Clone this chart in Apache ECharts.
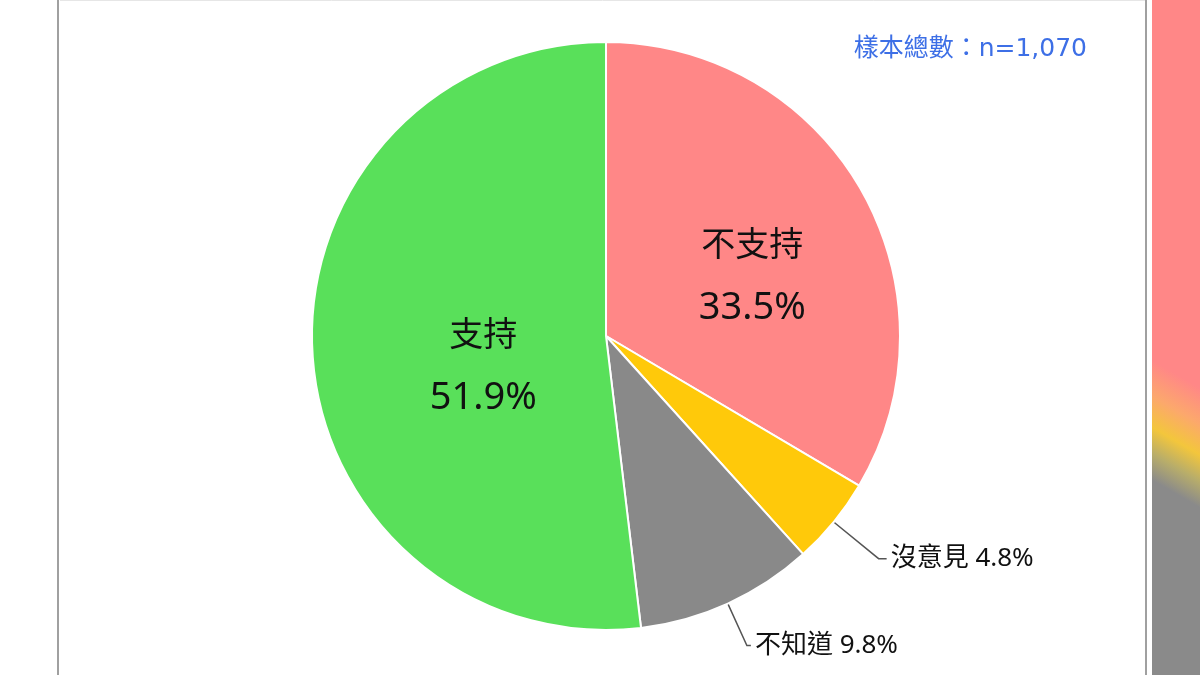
<!DOCTYPE html>
<html>
<head>
<meta charset="utf-8">
<script src="https://cdn.jsdelivr.net/npm/echarts@6/dist/echarts.min.js"></script>
<style>
  html, body { margin: 0; padding: 0; background: #fff; }
  #main { width: 1200px; height: 675px; }
</style>
</head>
<body>
<div id="main"></div>
<script>
var categories = ['不支持', '沒意見', '不知道', '支持'];
var values = [33.5, 4.8, 9.8, 51.9];
var colors = ['#ff8787', '#ffc90a', '#898989', '#59e05a'];
var sampleText = '樣本總數：n=1,070';

var chart = echarts.init(document.getElementById('main'));

var cjk = '"Noto Sans CJK TC", sans-serif';
var mixed = '"Noto Sans", "Noto Sans CJK TC", sans-serif';
var wide = '"DejaVu Sans", "Noto Sans CJK TC", sans-serif';

// 大塊用內部標籤（兩行），小塊用外部標籤
function insideLabel(offset) {
    return {
        show: true,
        position: 'inside',
        offset: offset,
        formatter: '{n|{b}}\n{p|{c}%}',
        rich: {
            n: { fontSize: 34, lineHeight: 65, color: '#111', fontFamily: cjk },
            p: { fontSize: 38, lineHeight: 65, color: '#111', fontFamily: mixed }
        }
    };
}
var outsideLabel = {
    show: true,
    position: 'outside',
    formatter: '{b} {c}%',
    color: '#111',
    fontSize: 26,
    fontFamily: mixed,
    distanceToLabelLine: 4
};

var pieData = categories.map(function (name, i) {
    return {
        name: name,
        value: values[i],
        itemStyle: { color: colors[i] },
        label: outsideLabel,
        labelLine: { show: true }
    };
});
pieData[0].label = insideLabel([16, 14]);
pieData[0].labelLine = { show: false };
pieData[3].label = insideLabel([27, 21]);
pieData[3].labelLine = { show: false };
pieData[1].labelLine = { show: true, length: 58, length2: 8 };
pieData[2].labelLine = { show: true, length: 46, length2: 4 };

option = {
    backgroundColor: '#fff',
    animation: false,
    graphic: [
        // 外框
        { type: 'rect', shape: { x: 58, y: -2, width: 1088, height: 690 },
          style: { fill: 'none', stroke: '#a0a0a0', lineWidth: 2 } },
        { type: 'line', shape: { x1: 60, y1: 0.5, x2: 1145, y2: 0.5 },
          style: { stroke: '#e6e6e6', lineWidth: 1 } },
        // 右側相鄰圖片的邊緣（模糊）
        { type: 'rect', shape: { x: 1152, y: 0, width: 48, height: 675 },
          style: {
              fill: new echarts.graphic.LinearGradient(1152, 360, 1100, 450, [
                  { offset: 0, color: '#ff8787' },
                  { offset: 0.3, color: '#fca86c' },
                  { offset: 0.56, color: '#f3c63c' },
                  { offset: 0.78, color: '#b8ad6a' },
                  { offset: 1, color: '#8a8a8a' }
              ], true)
          } },
        { type: 'text', right: 113, top: 37,
          style: { text: sampleText, fill: '#3d6fe6', fontSize: 25, fontFamily: wide } }
    ],
    series: [
        {
            type: 'pie',
            center: [606, 336],
            radius: 294,
            startAngle: 90,
            clockwise: true,
            avoidLabelOverlap: false,
            itemStyle: { borderColor: '#fff', borderWidth: 2 },
            labelLine: {
                lineStyle: { color: '#555', width: 1.5 }
            },
            emphasis: { disabled: true },
            data: pieData
        }
    ]
};

chart.setOption(option);
</script>
</body>
</html>
